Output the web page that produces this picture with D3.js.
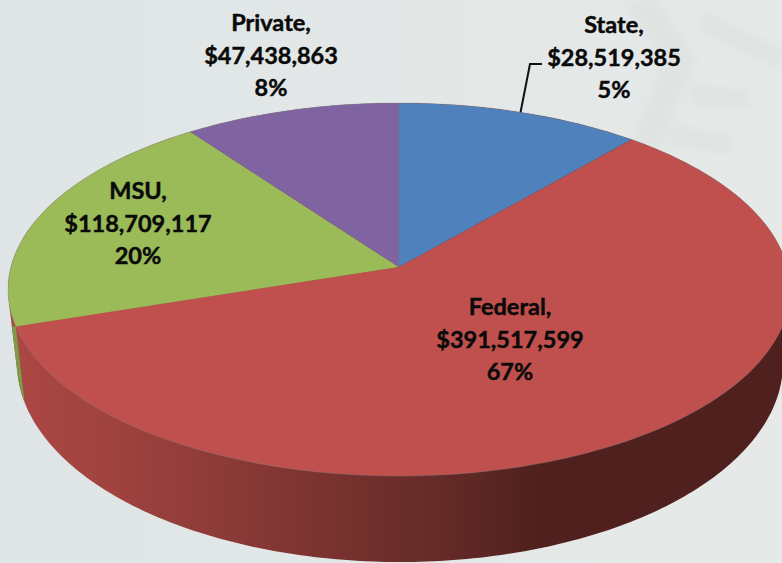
<!DOCTYPE html>
<html><head><meta charset="utf-8">
<script src="https://cdn.jsdelivr.net/npm/d3@7"></script>
<style>html,body{margin:0;padding:0;background:#e3e7e6;overflow:hidden}svg{display:block}</style>
</head><body><svg id="c" width="782" height="563"></svg>
<script>
// Data
const categories = ["State", "Federal", "MSU", "Private"];
const amounts = ["$28,519,385", "$391,517,599", "$118,709,117", "$47,438,863"];
const percents = ["5%", "67%", "20%", "8%"];
// Slice sizes as they appear in the picture (% of the turn), which differ from the printed labels
const drawnShares = [11.4, 58.6, 19.9, 10.1];
const colors = ["#4f81bd", "#c0504d", "#9bbb59", "#8064a2"];

// Layout
const W = 782, H = 563;
const top3d = {cx: 399, cy: 289.5, rx: 391, ry: 186.5};
const bottom3d = {cx: 400, cy: 363, rx: 383, ry: 199};
const apexOffset = -0.12;           // apex sits above the ellipse centre, in unit-circle terms
const labelPos = [{x: 614, y: 24}, {x: 510, y: 306}, {x: 138, y: 190}, {x: 271, y: 22}];
const lineStep = 32.5;

const svg = d3.select("#c");
const defs = svg.append("defs");

// Background
const bg = defs.append("linearGradient").attr("id", "bg");
bg.append("stop").attr("offset", 0).attr("stop-color", "#dfe5e6");
bg.append("stop").attr("offset", 1).attr("stop-color", "#e6e9e8");
svg.append("rect").attr("width", W).attr("height", H).attr("fill", "url(#bg)");

// Faint watermark shapes behind the chart
defs.append("filter").attr("id", "soft").append("feGaussianBlur").attr("stdDeviation", 4);
const mark = svg.append("g").attr("fill", "none").attr("stroke", "#d8dcda").attr("opacity", 0.4).attr("filter", "url(#soft)");
mark.append("path").attr("stroke-width", 30).attr("d", "M640,0 L680,60 L640,160");
mark.append("path").attr("stroke-width", 20).attr("d", "M700,20 L782,60 M690,95 L750,100 M670,135 L730,145");

// Angle → unit-circle point: ray from the off-centre apex to the rim
function unitPoint(a) {
  const dx = Math.sin(a), dy = -Math.cos(a), b = apexOffset * dy;
  const t = -b + Math.sqrt(b * b - (apexOffset * apexOffset - 1));
  return [t * dx, apexOffset + t * dy];
}
const onEllipse = (e, u) => [e.cx + e.rx * u[0], e.cy + e.ry * u[1]];
const ellipsePts = e => d3.range(0, 360, 1).map(d => {
  const a = d * Math.PI / 180;
  return [e.cx + e.rx * Math.cos(a), e.cy + e.ry * Math.sin(a)];
});

const arcs = d3.pie().sort(null)(drawnShares);

// Side wall
const hull = d3.polygonHull(ellipsePts(top3d).concat(ellipsePts(bottom3d)));
const hullPath = d3.line()(hull) + "Z";
const wall = defs.append("linearGradient").attr("id", "wall")
  .attr("gradientUnits", "userSpaceOnUse").attr("x1", 0).attr("x2", W).attr("y1", 0).attr("y2", 0);
[[0.02, "#ab4744"], [0.14, "#a0433f"], [0.38, "#7f3532"], [0.57, "#632a27"], [0.69, "#4f201d"], [1, "#4f201d"]]
  .forEach(s => wall.append("stop").attr("offset", s[0]).attr("stop-color", s[1]));
svg.append("path").attr("d", hullPath).attr("fill", "url(#wall)");

// Green sliver of wall on the far left
const seamU = unitPoint(arcs[2].startAngle);
const seamTop = onEllipse(top3d, seamU), seamBot = onEllipse(bottom3d, seamU);
defs.append("clipPath").attr("id", "hullClip").append("path").attr("d", hullPath);
svg.append("path").attr("clip-path", "url(#hullClip)").attr("fill", "#7d9a47")
  .attr("d", d3.line()([[0, seamTop[1]], seamTop, seamBot, [0, seamBot[1] + 6]]) + "Z");

// Top face
const apex = [top3d.cx, top3d.cy + top3d.ry * apexOffset];
function slicePath(d) {
  const p0 = onEllipse(top3d, unitPoint(d.startAngle));
  const p1 = onEllipse(top3d, unitPoint(d.endAngle));
  const large = d.endAngle - d.startAngle > Math.PI ? 1 : 0;
  return `M${apex}L${p0}A${top3d.rx},${top3d.ry} 0 ${large} 1 ${p1}Z`;
}
svg.append("g").selectAll("path").data(arcs).join("path")
  .attr("d", slicePath).attr("fill", (d, i) => colors[i]);
svg.append("ellipse").attr("cx", top3d.cx).attr("cy", top3d.cy).attr("rx", top3d.rx).attr("ry", top3d.ry)
  .attr("fill", "none").attr("stroke", "#8a8a8a").attr("stroke-opacity", 0.35).attr("stroke-width", 1);

// Leader line for State
const leaderTop = onEllipse(top3d, unitPoint(arcs[0].startAngle + (arcs[0].endAngle - arcs[0].startAngle) * 0.5));
svg.append("path").attr("fill", "none").attr("stroke", "#111").attr("stroke-width", 2)
  .attr("d", d3.line()([leaderTop, [530, 64], [542, 64]]));

// Labels
const labels = svg.append("g").attr("font-family", "Lato, Carlito, sans-serif").attr("font-weight", 700)
  .attr("font-size", 23.5).attr("text-anchor", "middle").attr("fill", "#0a0a0a")
  .attr("stroke", "#0a0a0a").attr("stroke-width", 0.45);
categories.forEach((c, i) => {
  [c + ",", amounts[i], percents[i]].forEach((t, j) => {
    labels.append("text").attr("x", labelPos[i].x).attr("y", labelPos[i].y + j * lineStep)
      .attr("dominant-baseline", "central").text(t);
  });
});
</script></body></html>
